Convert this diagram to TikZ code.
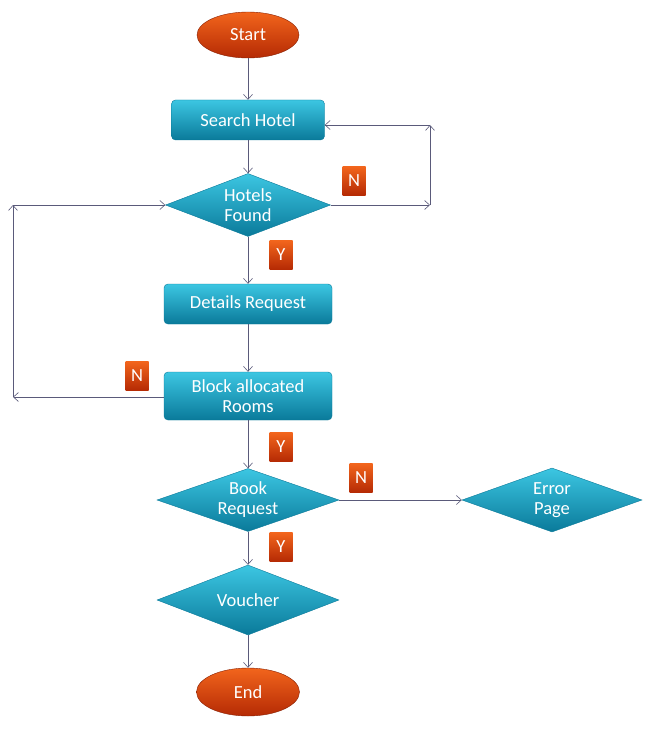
\documentclass[tikz,border=0pt]{standalone}
\usepackage{fontspec}
\setmainfont{Carlito}
\usetikzlibrary{shapes.geometric,arrows.meta}
\definecolor{tealtop}{HTML}{3CC6E2}
\definecolor{tealbot}{HTML}{0A7A9A}
\definecolor{orgtop}{HTML}{F2651C}
\definecolor{orgbot}{HTML}{B52A04}
\definecolor{linec}{HTML}{5A5A7A}

\begin{document}
\begin{tikzpicture}[x=1pt,y=-1pt,
    txt/.style={text=white,align=center,font=\fontsize{18.5}{20}\selectfont},
    oval/.style={txt,ellipse,minimum width=102pt,minimum height=46pt,top color=orgtop,bottom color=orgbot,draw=orgbot!75!black},
    box/.style={txt,rectangle,rounded corners=4pt,minimum height=40pt,top color=tealtop,bottom color=tealbot,draw=tealbot},
    choice/.style={txt,diamond,inner sep=0pt,shape aspect=2.9,minimum width=182pt,minimum height=63pt,top color=tealtop,bottom color=tealbot,draw=tealbot},
    tag/.style={txt,minimum width=23pt,minimum height=29pt,inner sep=0pt,top color=orgtop,bottom color=orgbot},
    flow/.style={draw=linec,line width=0.6pt,-{Straight Barb[length=5pt,width=9pt]}}]
  \useasboundingbox (0,0) rectangle (650,730);

  \node[oval] (start) at (248,35) {Start};
  \node[box,minimum width=153pt] (search) at (248,120) {Search Hotel};
  \node[choice,shape aspect=2.6,minimum width=165pt] (found) at (248,205) {Hotels\\Found};
  \node[box,minimum width=168pt] (details) at (248,304) {Details Request};
  \node[box,minimum width=168pt,minimum height=48pt] (block) at (248,396) {Block allocated\\Rooms};
  \node[choice] (book) at (248,500) {Book\\Request};
  \node[choice,shape aspect=2.8,minimum width=180pt,minimum height=64pt] (error) at (552,500) {Error\\Page};
  \node[choice,shape aspect=2.6,minimum height=70pt] (voucher) at (248,600) {Voucher};
  \node[oval,minimum width=103pt,minimum height=48pt] (end) at (248,692) {End};

  \foreach \t/\x/\y [count=\i] in {N/354/181, Y/281/255, N/137/376, Y/281/447, N/361/478, Y/281/547}{
    \node[tag] (tag\i) at (\x,\y) {\t};
  }

  \coordinate (r1) at (430,205);
  \coordinate (r2) at (430,125);
  \coordinate (l1) at (13,397);
  \coordinate (l2) at (13,205);

  \draw[flow] (start) -- (search);
  \draw[flow] (search) -- (found);
  \draw[flow] (found) -- (details);
  \draw[flow] (details) -- (block);
  \draw[flow] (block) -- (book);
  \draw[flow] (book) -- (voucher);
  \draw[flow] (voucher) -- (end);
  \draw[flow] (book.east) -- (error.west);
  \draw[flow] (found.east) -- (r1);
  \draw[flow] (r1) -- (r2);
  \draw[flow] (r2) -- (search.east |- r2);
  \draw[flow] (block.west |- l1) -- (l1);
  \draw[flow] (l1) -- (l2);
  \draw[flow] (l2) -- (found.west);
\end{tikzpicture}
\end{document}
